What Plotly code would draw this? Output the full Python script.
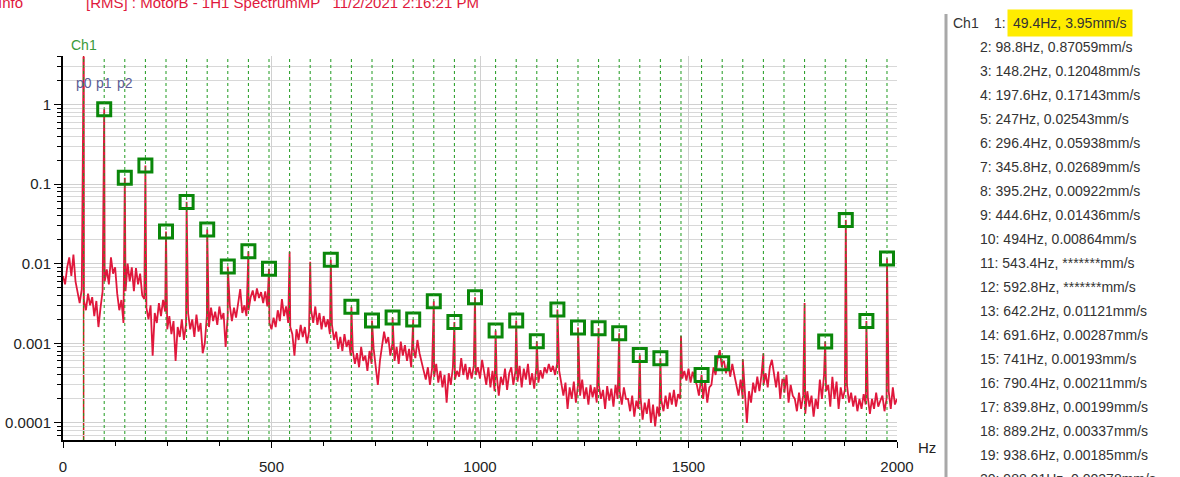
import plotly.graph_objects as go

# running-speed harmonics (Hz) and their amplitudes (mm/s)
peak_hz = [49.4, 98.8, 148.2, 197.6, 247, 296.4, 345.8, 395.2, 444.6, 494,
           543.4, 592.8, 642.2, 691.6, 741, 790.4, 839.8, 889.2, 938.6, 988.01,
           1037.4, 1086.8, 1136.2, 1185.6, 1235, 1284.4, 1333.8, 1383.2, 1432.6, 1482,
           1531.4, 1580.8, 1630.2, 1679.6, 1729, 1778.4, 1827.8, 1877.2, 1926.6, 1976]
peak_mm_s = [3.95, 0.87059, 0.12048, 0.17143, 0.02543, 0.05938, 0.02689, 0.00922, 0.01436, 0.00864,
             0.0141, 0.0106, 0.01121, 0.00287, 0.00193, 0.00211, 0.00199, 0.00337, 0.00185, 0.00378,
             0.00145, 0.00193, 0.00106, 0.00266, 0.00158, 0.00155, 0.00134, 0.00071, 0.00065, 0.00123,
             0.0004, 0.00056, 0.00063, 0.00075, 0.00035, 0.0032, 0.00105, 0.0355, 0.0019, 0.0116]
# 1 = peak has a marker box
peak_marked = [0, 1, 1, 1, 1, 1, 1, 1, 1, 1,
               0, 0, 1, 1, 1, 1, 1, 1, 1, 1,
               1, 1, 1, 1, 1, 1, 1, 1, 1, 0,
               1, 1, 0, 0, 0, 0, 1, 1, 1, 1]

# peak list on the right (first 20 entries)
list_mm_s = ["3.95", "0.87059", "0.12048", "0.17143", "0.02543", "0.05938", "0.02689",
             "0.00922", "0.01436", "0.00864", "*******", "*******", "0.01121", "0.00287",
             "0.00193", "0.00211", "0.00199", "0.00337", "0.00185", "0.00378"]

# spectrum noise floor, every 5 Hz from 0 to 2000 Hz, in µm/s
floor_um_s = [
    7, 5.5, 9, 12, 7, 13, 6, 4.5, 3.2, 4.8,
    3.5, 2.6, 4.2, 3.0, 3.8, 2.2, 3.4, 1.6, 2.8, 4.5,
    6, 8.5, 5.5, 12, 7.5, 9, 4.2, 2.6, 3.5, 1.8,
    4.5, 10, 6, 9, 4.5, 8.8, 5.5, 7.5, 4, 3.6,
    2.8, 2.0, 3.0, 0.7, 2.4, 1.8, 3.2, 2.2, 3.5, 2.5,
    1.5, 2.2, 1.3, 1.9, 0.6, 1.6, 1.2, 2.0, 1.1, 1.7,
    2.4, 1.5, 2.0, 1.2, 2.3, 1.4, 1.8, 0.75, 1.0, 2.2,
    1.6, 2.8, 1.9, 2.5, 1.7, 2.9, 2.0, 2.4, 0.9, 2.2,
    3.0, 1.9, 2.8, 2.1, 3.4, 4.8, 2.4, 3.0, 2.2, 2.6,
    3.8, 4.6, 3.4, 4.9, 3.7, 4.4, 3.2, 4.5, 2.9, 1.8,
    1.5, 2.1, 1.6, 2.6, 1.9, 3.6, 2.2, 2.9, 1.8, 1.6,
    1.3, 0.7, 1.5, 1.1, 1.7, 1.2, 1.6, 1.0, 1.4, 2.6,
    1.8, 2.9, 1.7, 2.4, 1.5, 2.2, 1.6, 2.0, 1.3, 1.7,
    1.1, 1.4, 0.85, 1.2, 0.8, 1.3, 0.9, 1.1, 0.7, 0.8,
    0.55, 0.75, 0.5, 0.9, 0.6, 0.7, 0.45, 0.8, 0.55, 0.85,
    0.5, 0.3, 0.6, 0.9, 1.4, 1.0, 1.2, 0.7, 1.0, 0.6,
    0.9, 0.55, 1.05, 0.7, 0.95, 0.6, 0.85, 0.5, 0.9, 0.65,
    1.1, 0.75, 0.6, 0.45, 0.35, 0.5, 0.3, 0.48, 0.38, 0.55,
    0.32, 0.45, 0.28, 0.4, 0.18, 0.42, 0.3, 0.5, 0.35, 0.45,
    0.38, 0.65, 0.4, 0.55, 0.35, 0.5, 0.36, 0.52, 0.4, 0.5,
    0.36, 0.62, 0.42, 0.3, 0.5, 0.28, 0.45, 0.25, 0.4, 0.22,
    0.38, 0.3, 0.48, 0.26, 0.42, 0.5, 0.3, 0.45, 0.33, 0.52,
    0.28, 0.48, 0.35, 0.55, 0.3, 0.42, 0.27, 0.5, 0.32, 0.46,
    0.36, 0.5, 0.42, 0.55, 0.44, 0.52, 0.4, 0.56, 0.45, 0.3,
    0.22, 0.32, 0.15, 0.28, 0.2, 0.33, 0.18, 0.3, 0.22, 0.35,
    0.2, 0.28, 0.17, 0.3, 0.21, 0.28, 0.18, 0.3, 0.2, 0.26,
    0.15, 0.29, 0.19, 0.27, 0.16, 0.3, 0.2, 0.25, 0.17, 0.28,
    0.2, 0.2, 0.14, 0.22, 0.12, 0.19, 0.15, 0.21, 0.11, 0.18,
    0.13, 0.2, 0.1, 0.17, 0.09, 0.16, 0.12, 0.19, 0.14, 0.22,
    0.15, 0.24, 0.17, 0.26, 0.16, 0.23, 0.2, 0.36, 0.45, 0.34,
    0.48, 0.32, 0.44, 0.35, 0.3, 0.22, 0.38, 0.2, 0.33, 0.18,
    0.28, 0.3, 0.5, 0.4, 0.65, 0.82, 0.5, 0.6, 0.42, 0.58,
    0.38, 0.55, 0.4, 0.3, 0.22, 0.35, 0.2, 0.28, 0.1, 0.25,
    0.18, 0.32, 0.24, 0.38, 0.25, 0.4, 0.3, 0.42, 0.28, 0.5,
    0.62, 0.4, 0.28, 0.44, 0.2, 0.35, 0.24, 0.4, 0.18, 0.3,
    0.22, 0.2, 0.14, 0.24, 0.15, 0.22, 0.13, 0.25, 0.16, 0.22,
    0.12, 0.2, 0.15, 0.35, 0.2, 0.4, 0.25, 0.3, 0.16, 0.38,
    0.2, 0.33, 0.15, 0.28, 0.2, 0.26, 0.3, 0.18, 0.24, 0.16,
    0.22, 0.14, 0.2, 0.15, 0.23, 0.17, 0.21, 0.13, 0.2, 0.15,
    0.24, 0.16, 0.19, 0.22, 0.14, 0.2, 0.25, 0.15, 0.28, 0.17,
    0.2,
]
floor_hz = list(range(0, 2001, 5))

title_text = "[RMS] : MotorB - 1H1 SpectrumMP   11/2/2021 2:16:21 PM"

# plot area in page pixels
L, R, T, B = 63, 897, 56, 440


def px(x):
    return (x - L) / (R - L)


def py(y):
    return (B - y) / (B - T)


FONT = "Liberation Sans, Arial, sans-serif"
RED = "#e0183c"
GREEN = "#0a870a"

# merge floor and harmonic spikes into one spectrum line
spec = sorted(list(zip(floor_hz, [v / 1000 for v in floor_um_s])) + list(zip(peak_hz, peak_mm_s)))

fig = go.Figure()

fig.add_trace(go.Scatter(
    x=[p[0] for p in spec],
    y=[p[1] for p in spec],
    mode="lines",
    line=dict(color=RED, width=1.8),
    hoverinfo="skip",
))

fig.add_trace(go.Scatter(
    x=[f for f, m in zip(peak_hz, peak_marked) if m],
    y=[a for a, m in zip(peak_mm_s, peak_marked) if m],
    mode="markers",
    marker=dict(symbol="square-open", size=13, color=GREEN, line=dict(width=3, color=GREEN)),
))

# cursor p0 and dotted harmonic lines
fig.add_vline(x=peak_hz[0], line_color="#d01c1c", line_width=1.5, layer="below")
for f in peak_hz:
    fig.add_vline(x=f, line_color="#1f9a1f", line_width=1, line_dash="dot", layer="above")

# right side peak list
fig.add_shape(type="line", xref="paper", yref="paper",
              x0=px(946), x1=px(946), y0=py(14), y1=py(480),
              line=dict(color="#a8a8a8", width=3))

row_y = [23.5 + i * 23.95 for i in range(len(list_mm_s))]
fig.add_annotation(xref="paper", yref="paper", x=px(951), y=py(row_y[0]), text="Ch1",
                   showarrow=False, xanchor="left", yanchor="middle",
                   font=dict(size=14, color="#333333", family=FONT))
fig.add_annotation(xref="paper", yref="paper", x=px(992), y=py(row_y[0]), text="1:",
                   showarrow=False, xanchor="left", yanchor="middle",
                   font=dict(size=14, color="#333333", family=FONT))
fig.add_annotation(xref="paper", yref="paper", x=px(1007), y=py(row_y[0]),
                   text=f"{peak_hz[0]:g}Hz, {list_mm_s[0]}mm/s",
                   showarrow=False, xanchor="left", yanchor="middle", bgcolor="#ffec00", borderpad=5,
                   font=dict(size=14, color="#333333", family=FONT))
for i in range(1, len(list_mm_s)):
    fig.add_annotation(xref="paper", yref="paper", x=px(978), y=py(row_y[i]),
                       text=f"{i + 1}: {peak_hz[i]:g}Hz, {list_mm_s[i]}mm/s",
                       showarrow=False, xanchor="left", yanchor="middle",
                       font=dict(size=14, color="#333333", family=FONT))

# labels inside / around the plot
fig.add_annotation(xref="x", yref="paper", x=peak_hz[0], y=py(45), text="Ch1",
                   showarrow=False, xanchor="center", yanchor="middle",
                   font=dict(size=14, color="#3a9a3a", family=FONT))
for i, lab in enumerate(["p0", "p1", "p2"]):
    fig.add_annotation(xref="x", yref="paper", x=peak_hz[i], y=py(83), text=lab,
                       showarrow=False, xanchor="center", yanchor="middle",
                       font=dict(size=14, color="#5c5c94", family=FONT))
fig.add_annotation(xref="paper", yref="paper", x=px(916), y=py(447), text="Hz",
                   showarrow=False, xanchor="left", yanchor="middle",
                   font=dict(size=15, color="#222222", family=FONT))
fig.add_annotation(xref="paper", yref="paper", x=px(-4), y=py(2), text="Info",
                   showarrow=False, xanchor="left", yanchor="middle",
                   font=dict(size=15, color=RED, family=FONT))
fig.add_annotation(xref="paper", yref="paper", x=px(84), y=py(2), text=title_text,
                   showarrow=False, xanchor="left", yanchor="middle",
                   font=dict(size=15, color=RED, family=FONT))

fig.update_layout(
    width=1180,
    height=477,
    margin=dict(l=L, r=1180 - R, t=T, b=477 - B, autoexpand=False),
    paper_bgcolor="white",
    plot_bgcolor="white",
    showlegend=False,
    font=dict(family=FONT, size=15, color="#222222"),
)
fig.update_xaxes(
    range=[0, 2000],
    dtick=500,
    automargin=False,
    ticks="outside", ticklen=6, tickcolor="black",
    ticklabelstandoff=6,
    showline=True, linecolor="black", linewidth=2,
    showgrid=True, gridcolor="#d0d0d0", gridwidth=1,
    zeroline=False,
    minor=dict(dtick=125, ticks="outside", ticklen=4, tickcolor="black", showgrid=False),
)
fig.update_yaxes(
    type="log",
    range=[-4.215, 0.609],
    automargin=False,
    tickvals=[0.0001, 0.001, 0.01, 0.1, 1],
    ticktext=["0.0001", "0.001", "0.01", "0.1", "1"],
    ticks="outside", ticklen=7, tickcolor="black",
    showline=True, linecolor="black", linewidth=2,
    showgrid=True, gridcolor="#d0d0d0", gridwidth=1,
    zeroline=False,
    minor=dict(dtick="D1", ticks="outside", ticklen=4, tickcolor="black",
               showgrid=True, gridcolor="#d8d8d8", gridwidth=1),
)

fig.write_html("out.html", config={"displayModeBar": False},
               post_script="document.body.style.margin='0';")
